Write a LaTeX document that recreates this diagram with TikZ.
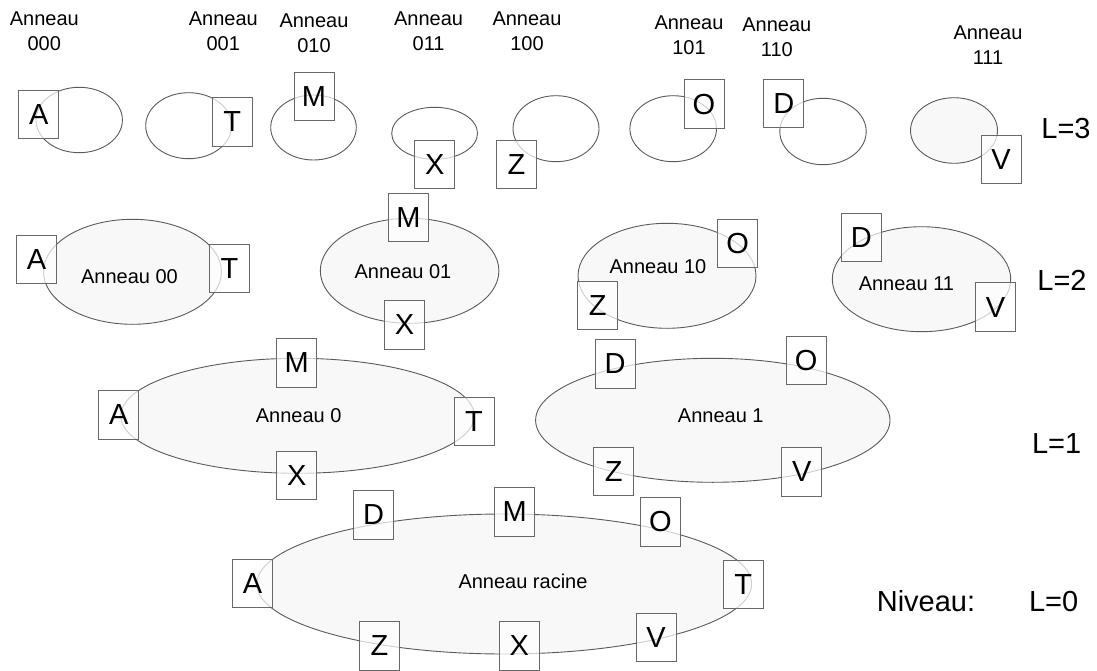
\documentclass[tikz,border=0pt]{standalone}
\usepackage{fontspec}
\setmainfont{Liberation Sans}
\usetikzlibrary{shapes.geometric}
\definecolor{ringline}{HTML}{5A5A5A}
\definecolor{ringfill}{HTML}{F8F8F8}
\definecolor{boxline}{HTML}{686868}
\begin{document}
\begin{tikzpicture}[x=1pt,y=-1pt,
  ring/.style={ellipse, draw=ringline, line width=0.9pt, inner sep=0pt, fill=ringfill},
  ringw/.style={ring, fill=white},
  peer/.style={draw=boxline, line width=1pt, fill=white, fill opacity=0.7, text opacity=1,
    minimum width=40pt, minimum height=48.5pt, inner sep=0pt, font=\fontsize{29}{34}\selectfont},
  toplab/.style={font=\fontsize{20}{25}\selectfont, align=center, inner sep=0pt, anchor=north},
  ringlab/.style={font=\fontsize{20}{25}\selectfont, inner sep=0pt},
  levlab/.style={font=\fontsize{29}{34}\selectfont, inner sep=0pt}]
\useasboundingbox (0,0) rectangle (1097,671);

% ---------- L=3 ----------
\node[toplab] (t000) at (44.3,11.7) {Anneau\\000};
\node[toplab] (t001) at (223.3,11.7) {Anneau\\001};
\node[toplab] (t010) at (314,13.4) {Anneau\\010};
\node[toplab] (t011) at (428.6,11.7) {Anneau\\011};
\node[toplab] (t100) at (527,11.7) {Anneau\\100};
\node[toplab] (t101) at (689,15.7) {Anneau\\101};
\node[toplab] (t110) at (776.8,17.4) {Anneau\\110};
\node[toplab] (t111) at (988,25.7) {Anneau\\111};

\node[ringw, minimum width=86.4pt, minimum height=65.4pt] (r000) at (79.2,120) {};
\node[ringw, minimum width=86pt, minimum height=66pt] (r001) at (188.7,125.7) {};
\node[ringw, minimum width=85.6pt, minimum height=65pt] (r010) at (313.5,127.5) {};
\node[ringw, minimum width=85.8pt, minimum height=52pt] (r011) at (434.6,133.3) {};
\node[ringw, minimum width=86pt, minimum height=66pt] (r100) at (556,128.7) {};
\node[ringw, minimum width=86.6pt, minimum height=66pt] (r101) at (673.2,128.7) {};
\node[ringw, minimum width=86.4pt, minimum height=66.4pt] (r110) at (823,131.5) {};
\node[ring, minimum width=87pt, minimum height=65.6pt] (r111) at (954,130.5) {};

\node[peer] (a3A) at (38.8,114.7) {A};
\node[peer] (a3T) at (232.2,122) {T};
\node[peer] (a3M) at (314,96.5) {M};
\node[peer] (a3X) at (434.8,164.3) {X};
\node[peer] (a3Z) at (516.6,164.7) {Z};
\node[peer] (a3O) at (704,104.2) {O};
\node[peer] (a3D) at (783.9,103.3) {D};
\node[peer] (a3V) at (1001,159.7) {V};
\node[levlab] (lev3) at (1066,128.3) {L=3};

% ---------- L=2 ----------
\node[ring, minimum width=178pt, minimum height=105pt] (r00) at (132.5,271.8) {};
\node[ring, minimum width=178.6pt, minimum height=105pt] (r01) at (409.6,270.8) {};
\node[ring, minimum width=178pt, minimum height=105pt] (r10) at (667,275.8) {};
\node[ring, minimum width=178.4pt, minimum height=105pt] (r11) at (921.5,279.2) {};
\node[ringlab] (l00) at (129.5,276.7) {Anneau 00};
\node[ringlab] (l01) at (403,271.7) {Anneau 01};
\node[ringlab] (l10) at (658,266.7) {Anneau 10};
\node[ringlab] (l11) at (906.4,283.3) {Anneau 11};

\node[peer] (a2A) at (36.6,259.3) {A};
\node[peer] (a2T) at (229.5,268.3) {T};
\node[peer] (a2M) at (408.4,217.7) {M};
\node[peer] (a2X) at (404.5,325) {X};
\node[peer] (a2O) at (737.7,243.3) {O};
\node[peer] (a2Z) at (597.7,305.7) {Z};
\node[peer] (a2D) at (861.3,237.7) {D};
\node[peer] (a2V) at (995.6,307.2) {V};
\node[levlab] (lev2) at (1062,280) {L=2};

% ---------- L=1 ----------
\node[ring, minimum width=353.6pt, minimum height=115pt] (r0) at (297.5,415.8) {};
\node[ring, minimum width=354.4pt, minimum height=124pt] (r1) at (712.8,420.3) {};
\node[ringlab] (l0) at (298.7,416) {Anneau 0};
\node[ringlab] (l1) at (720.8,416) {Anneau 1};

\node[peer] (a1A) at (118.8,415) {A};
\node[peer] (a1M) at (296.7,363) {M};
\node[peer] (a1T) at (474,421.3) {T};
\node[peer] (a1X) at (296.7,475.3) {X};
\node[peer] (a1D) at (615,364) {D};
\node[peer] (a1O) at (806.2,360.5) {O};
\node[peer] (a1Z) at (613.8,471.3) {Z};
\node[peer] (a1V) at (801.7,472) {V};
\node[levlab] (lev1) at (1056.7,443.7) {L=1};

% ---------- L=0 ----------
\node[ring, minimum width=495pt, minimum height=140pt] (rr) at (504.2,584) {};
\node[ringlab] (lr) at (523,581) {Anneau racine};

\node[peer] (a0D) at (373.7,515) {D};
\node[peer] (a0M) at (514.8,512) {M};
\node[peer] (a0O) at (660.5,522) {O};
\node[peer] (a0A) at (252.5,583.5) {A};
\node[peer] (a0T) at (743.3,584.7) {T};
\node[peer] (a0Z) at (379.5,646) {Z};
\node[peer] (a0X) at (519.2,646) {X};
\node[peer] (a0V) at (656,637.3) {V};

\node[levlab] (niv) at (926,601.5) {Niveau:};
\node[levlab] (lev0) at (1053.7,601.5) {L=0};
\end{tikzpicture}
\end{document}
